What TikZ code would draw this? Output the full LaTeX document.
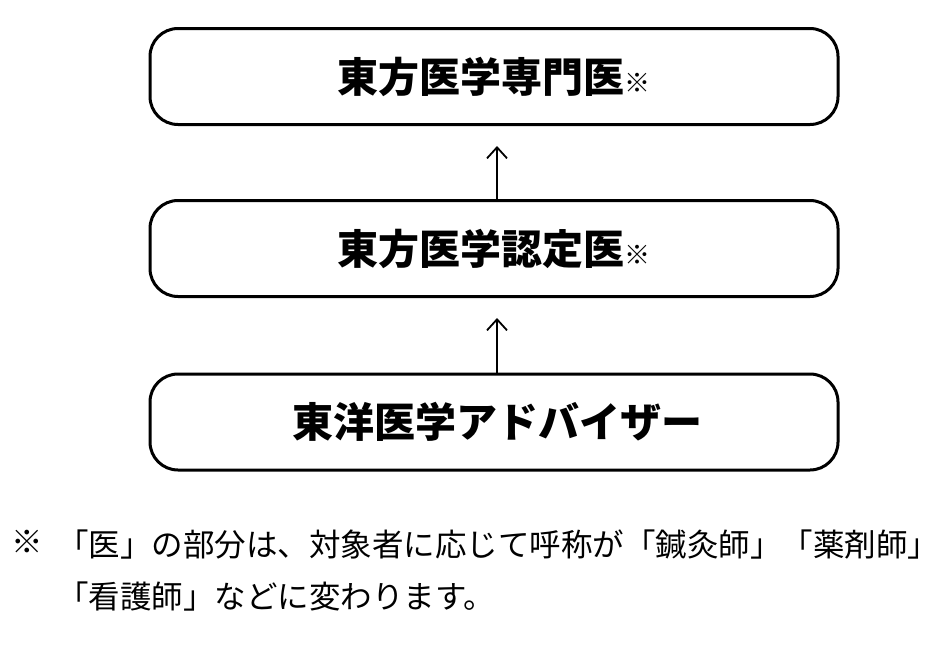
\documentclass[tikz,border=0pt]{standalone}
\usepackage{fontspec}
\newfontfamily\cjk{Noto Sans CJK JP}
\usepackage{tikz}
\usetikzlibrary{shapes,arrows,positioning,calc,arrows.meta}

\begin{document}
\begin{tikzpicture}[x=1pt, y=-1pt,
        levelbox/.style={draw, line width=3pt, rounded corners=28pt,
            minimum width=688pt, minimum height=96pt, inner sep=0pt,
            font=\cjk\bfseries\fontsize{41}{41}\selectfont},
        uparrow/.style={line width=1.8pt, -{Straight Barb[length=11pt,width=20pt,line width=1.8pt]}},
        notetext/.style={font=\cjk\fontsize{31.5}{52}\selectfont, inner sep=0pt, anchor=north west, align=left}
    ]

        \useasboundingbox (0,0) rectangle (950,648);

        \def\mark{{\cjk\mdseries\fontsize{26}{26}\selectfont ※}}

        \node[levelbox] (senmon) at (494,76.5) {東方医学専門医\mark};
        \node[levelbox] (nintei) at (494,248.5) {東方医学認定医\mark};
        \node[levelbox] (adviser) at (494,422) {\hspace{6pt}東洋医学アドバイザー};

        \draw[uparrow, shorten >=20pt] (nintei.north -| 497,0) -- (senmon.south -| 497,0);
        \draw[uparrow, shorten >=20pt] (adviser.north -| 497,0) -- (nintei.south -| 497,0);

        % note
        \node[font=\cjk\fontsize{31.5}{52}\selectfont, inner sep=0pt, anchor=north west] (notemark) at (11,530) {※};
        \node[notetext] (note) at (57,530) {「医」の部分は、対象者に応じて呼称が「鍼灸師」「薬剤師」\\「看護師」などに変わります。};
        \end{tikzpicture}
\end{document}
